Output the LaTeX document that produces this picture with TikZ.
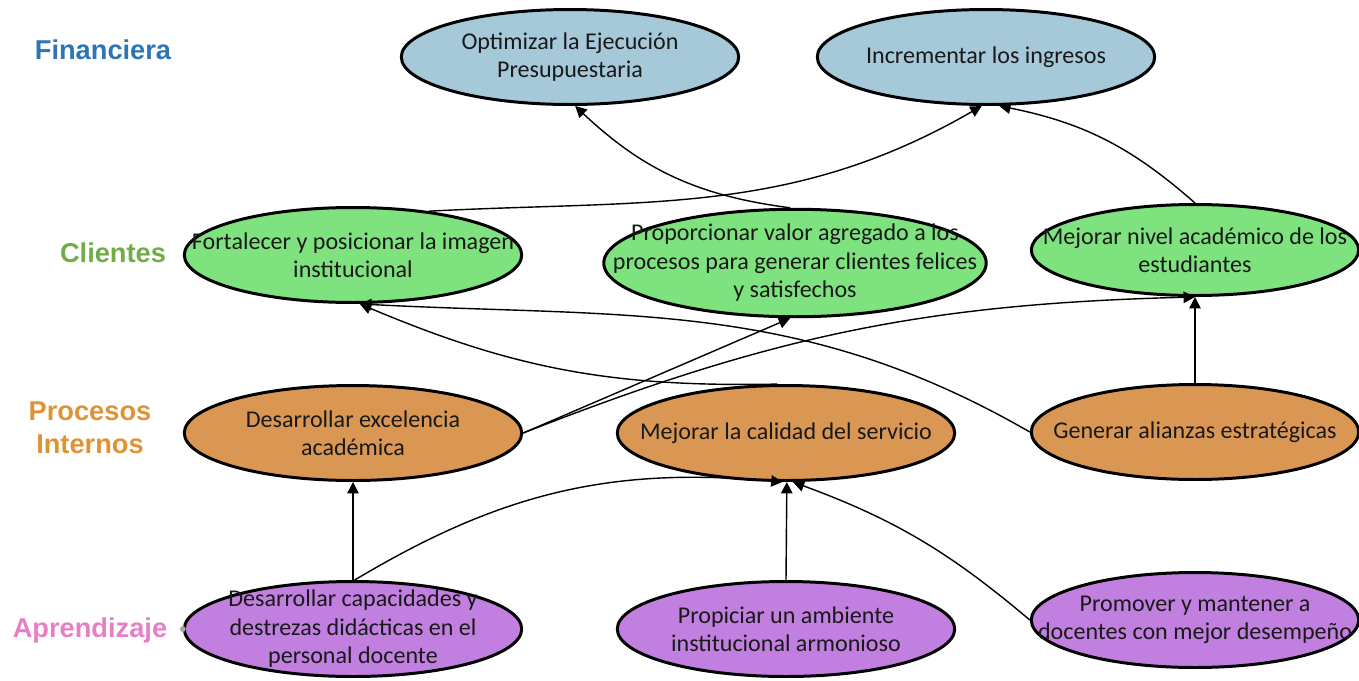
\documentclass[tikz,border=0pt]{standalone}
\usepackage{fontspec}
\usepackage{xcolor}
\usepackage{tikz}
\usetikzlibrary{arrows.meta,shapes.geometric}
\setmainfont{Carlito}
\newfontfamily\rotulo{Liberation Sans}
\definecolor{azulobj}{HTML}{A6C9DA}
\definecolor{verdeobj}{HTML}{7EE27E}
\definecolor{naranjaobj}{HTML}{DA9754}
\definecolor{moradoobj}{HTML}{C17FE0}
\definecolor{azulrot}{HTML}{2E75B6}
\definecolor{verderot}{HTML}{70AD47}
\definecolor{naranjarot}{HTML}{DE9436}
\definecolor{rosarot}{HTML}{E87FC4}
\tikzset{
  objetivo/.style={
    ellipse, draw=black, line width=1.7pt, inner sep=0pt,
    minimum width=6.75cm, minimum height=1.9cm
  },
  texto/.style={
    align=center, text=black!90,
    font=\fontsize{13.7}{16.2}\selectfont
  },
  perspectiva/.style={
    align=center, font=\rotulo\bfseries\fontsize{15.5}{19}\selectfont
  }
}
\begin{document}
\begin{tikzpicture}[x=0.02cm,y=-0.02cm]
                    \useasboundingbox (0,0) rectangle (1359,680);
                    % perspectivas
                    \node[perspectiva, text=azulrot]    (LF) at (103,50)  {Financiera};
                    \node[perspectiva, text=verderot]   (LC) at (113,253) {Clientes};
                    \node[perspectiva, text=naranjarot] (LP) at (90,428)  {Procesos\\Internos};
                    \node[perspectiva, text=rosarot]    (LA) at (90,630)  {Aprendizaje};
                    \begin{scope}[every node/.style={objetivo}]
                        \node[fill=azulobj, label={[texto]center:{Optimizar la Ejecución\\Presupuestaria}}] (F1) at (570,57) {};
                        \node[fill=azulobj, label={[texto]center:{Incrementar los ingresos}}] (F2) at (986,57) {};

                        \node[fill=verdeobj, label={[texto]center:{Fortalecer y posicionar la imagen\\institucional}}] (C1) at (353,255) {};
                        \node[fill=verdeobj, minimum width=7.65cm, minimum height=2.15cm, label={[texto]center:{Proporcionar valor agregado a los\\procesos para generar clientes felices\\y satisfechos}}] (C2) at (795,263) {};
                        \node[fill=verdeobj, minimum width=6.55cm, minimum height=1.82cm, label={[texto]center:{Mejorar nivel académico de los\\estudiantes}}] (C3) at (1195,250) {};

                        \node[fill=naranjaobj, label={[texto]center:{Desarrollar excelencia\\académica}}] (P1) at (353,433) {};
                        \node[fill=naranjaobj, label={[texto]center:{Mejorar la calidad del servicio}}] (P2) at (786,433) {};
                        \node[fill=naranjaobj, minimum width=6.55cm, label={[texto]center:{Generar alianzas estratégicas}}] (P3) at (1195,432) {};

                        \node[fill=moradoobj, label={[texto]center:{Desarrollar capacidades y\\destrezas didácticas en el\\personal docente}}] (A1) at (353,629) {};
                        \node[fill=moradoobj, label={[texto]center:{Propiciar un ambiente\\institucional armonioso}}] (A2) at (786,629) {};
                        \node[fill=moradoobj, minimum width=6.55cm, label={[texto]center:{Promover y mantener a\\docentes con mejor desempeño}}] (A3) at (1195,620) {};
                    \end{scope}
                    \fill[black!35] (A1.west) circle (3);
                    \begin{scope}[>={Triangle[length=6.5pt,width=6.5pt]}, every edge/.style={draw=black,line width=0.8pt}]
                        \path [->] (C1.30) edge[out=3,in=-150] (F2.265);
                        \path [->] (C2.95) edge[bend left=18] (F1.276);
                        \path [->] (C3.north) edge[bend right=15] (F2.285);

                        \path [->] (P1.east) edge (C2.265);
                        \path [->] (P1.east) edge[bend left=10] (C3.south);
                        \path [->] (P2.100) edge[bend left=12] (C1.278);
                        \path [->] (P3.west) edge[out=150,in=-3] (C1.278);
                        \path [->] (P3.north) edge (C3.south);

                        \path [->] (A1.north) edge (P1.south);
                        \path [->] (A1.88) edge[bend left=18] (P2.266);
                        \path [->] (A2.north) edge (P2.271);
                        \path [->] (A3.west) edge[bend right=10] (P2.278);
                    \end{scope}
                \end{tikzpicture}
\end{document}
